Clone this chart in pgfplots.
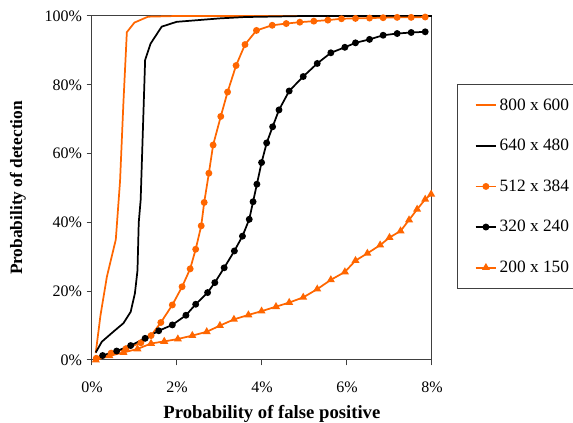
\documentclass[border=0pt]{standalone}
\usepackage{pgfplots}
\pgfplotsset{compat=1.18}
\usepackage{fontspec}
\setmainfont{Liberation Serif}
\definecolor{org}{HTML}{FF6600}
\begin{document}
\begin{tikzpicture}
\begin{axis}[
  name=ax,
  scale only axis,
  width=255pt, height=258pt,
  xmin=0, xmax=8, ymin=0, ymax=100,
  xtick={0,2,4,6,8}, xticklabels={0\%,2\%,4\%,6\%,8\%},
  ytick={0,20,40,60,80,100}, yticklabels={0\%,20\%,40\%,60\%,80\%,100\%},
  tick align=outside, xtick pos=bottom, ytick pos=left,
  major tick length=4pt,
  tick style={black!75, line width=0.75pt},
  axis line style={black!75, line width=0.75pt},
  ticklabel style={font=\fontsize{12}{14}\selectfont},
  xticklabel style={yshift=-8.5pt},
  xlabel={\textbf{Probability of false positive}},
  ylabel={\textbf{Probability of detection}},
  xlabel style={font=\fontsize{14}{16}\selectfont, at={(axis description cs:0.529,-0.157)}, anchor=center},
  ylabel style={font=\fontsize{13}{15}\selectfont, at={(axis description cs:-0.2176,0.5)}, anchor=center},
  clip=true,
  legend cell align=left,
  legend style={at={(axis description cs:1,1)}, anchor=north west,
    xshift=18.75pt, yshift=-51pt,
    draw=black!75, line width=0.75pt,
    font=\fontsize{13}{15}\selectfont,
    row sep=16.3pt, inner ysep=8.5pt, inner xsep=11pt},
  legend image code/.code={\path (-0.07cm,0cm); \draw[mark repeat=2,mark phase=2,#1] plot coordinates {(0cm,0cm) (0.27cm,0cm) (0.54cm,0cm)};},
]
\addplot[org, line width=1.3pt] coordinates {
(0.087,2.0) (0.2,13) (0.35,24.2) (0.56,35) (0.66,52) (0.74,75) (0.82,95.3) (1.0,98.1) (1.32,99.8) (2.0,100) (8,100)};
\addlegendentry{\makebox[62pt][l]{800 x 600}}
\addplot[black, line width=1.3pt] coordinates {
(0.09,2.2) (0.23,5.3) (0.5,8.2) (0.74,10.7) (0.91,14) (1.01,19.4) (1.07,26) (1.10,40) (1.145,46.5) (1.25,87.2) (1.38,92) (1.64,96.9) (1.99,98.3) (3.0,99.3) (3.6,99.7) (5,100) (8,100)};
\addlegendentry{\makebox[62pt][l]{640 x 480}}
\addplot[org, line width=1.3pt, mark=*, mark size=1.9pt] coordinates {
(0.1,0.5) (0.45,2.0) (0.8,3.3) (1.15,5.0) (1.39,7.1) (1.62,10.9) (1.89,16.0) (2.12,21.3) (2.31,26.5) (2.44,32.2) (2.57,39.0) (2.64,45.8) (2.75,54.3) (2.85,62.5) (3.03,70.8) (3.19,77.9) (3.39,85.6) (3.6,91.7) (3.87,95.8) (4.24,97.3) (4.57,97.8) (4.89,98.2) (5.22,98.5) (5.55,98.8) (5.87,99.2) (6.2,99.3) (6.53,99.4) (6.85,99.5) (7.18,99.6) (7.51,99.6) (7.84,99.7)};
\addlegendentry{\makebox[62pt][l]{512 x 384}}
\addplot[black, line width=1.3pt, mark=*, mark size=1.9pt] coordinates {
(0.25,1.3) (0.58,2.6) (0.91,4.2) (1.25,6.3) (1.57,8.5) (1.89,10.2) (2.21,13.0) (2.44,16.2) (2.72,19.6) (2.89,22.5) (3.11,26.8) (3.35,31.7) (3.54,36.0) (3.70,40.9) (3.79,46.0) (3.88,51.1) (3.99,57.4) (4.11,63.1) (4.25,67.8) (4.40,72.7) (4.64,78.2) (4.97,82.4) (5.30,86.2) (5.62,89.3) (5.95,90.9) (6.20,92.2) (6.53,93.2) (6.85,94.4) (7.18,94.9) (7.51,95.2) (7.84,95.4)};
\addlegendentry{\makebox[62pt][l]{320 x 240}}
\addplot[org, line width=1.3pt, mark=triangle*, mark size=2.2pt] coordinates {
(0.09,0) (0.41,1.2) (0.74,2.2) (1.07,3.2) (1.39,4.8) (1.70,5.4) (2.02,6.1) (2.36,7.1) (2.70,8.2) (3.01,10.0) (3.34,11.8) (3.68,13.1) (3.99,14.2) (4.33,15.5) (4.64,16.7) (4.97,18.2) (5.30,20.6) (5.62,23.3) (5.95,25.6) (6.20,28.9) (6.48,31.0) (6.78,33.4) (7.0,35.6) (7.26,37.5) (7.46,40.7) (7.65,43.8) (7.84,46.7) (7.98,48.2)};
\addlegendentry{\makebox[62pt][l]{200 x 150}}
\end{axis}
\pgfresetboundingbox
\path ([shift={(-69pt,-47.25pt)}]ax.south west) rectangle ([shift={(105.75pt,12pt)}]ax.north east);
\end{tikzpicture}
\end{document}
